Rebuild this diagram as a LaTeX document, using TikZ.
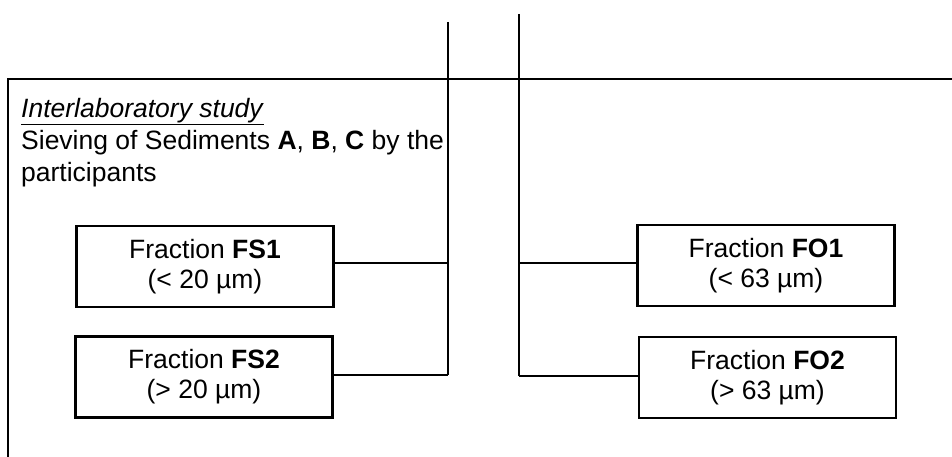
\documentclass[tikz,border=0pt]{standalone}
\usepackage{fontspec}
\setmainfont{Liberation Sans}
\usepackage{tikz}
\usetikzlibrary{positioning, calc}

\tikzset{
	fracbox/.style={draw, line width=2.8pt, minimum width=257pt, minimum height=81pt, inner sep=0pt, align=center, font=\fontsize{26.5}{30}\selectfont},
	bar/.style={line width=2.8pt}
}

\begin{document}
\begin{tikzpicture}[x=1pt, y=-1pt]
				\useasboundingbox (0,0) rectangle (952,457);
				
				% frame of the interlaboratory study
				\draw[bar] (8,457) -- (8,79) -- (952,79);
				\node(study) [anchor=north west, inner sep=0pt, align=left, font=\fontsize{26.5}{32}\selectfont] at (21,98) {\underline{\textit{Interlaboratory study}}\\Sieving of Sediments \textbf{A}, \textbf{B}, \textbf{C} by the\\participants};
				
				% the two vertical lines
				\coordinate(s0) at (448,22);
				\coordinate(s1) at (448,263);
				\coordinate(s2) at (448,375);
				\coordinate(o0) at (519,14);
				\coordinate(o1) at (519,263);
				\coordinate(o2) at (519,376);
				\draw[bar] (s0) -- (s2);
				\draw[bar] (o0) -- (o2);
				
				\node(fs1) [fracbox] at (205,266.5) {Fraction \textbf{FS1}\\(< 20 µm)};
				\node(fs2) [fracbox] at (204,377) {Fraction \textbf{FS2}\\(> 20 µm)};
				\node(fo1) [fracbox] at (766,265.5) {Fraction \textbf{FO1}\\(< 63 µm)};
				\node(fo2) [fracbox] at (767.5,377.5) {Fraction \textbf{FO2}\\(> 63 µm)};
				
				\draw[bar] (fs1.east |- s1) -- (s1);
				\draw[bar] (fs2.east |- s2) -- (s2);
				\draw[bar] (o1) -- (fo1.west |- o1);
				\draw[bar] (o2) -- (fo2.west |- o2);
				
			\end{tikzpicture}
\end{document}
